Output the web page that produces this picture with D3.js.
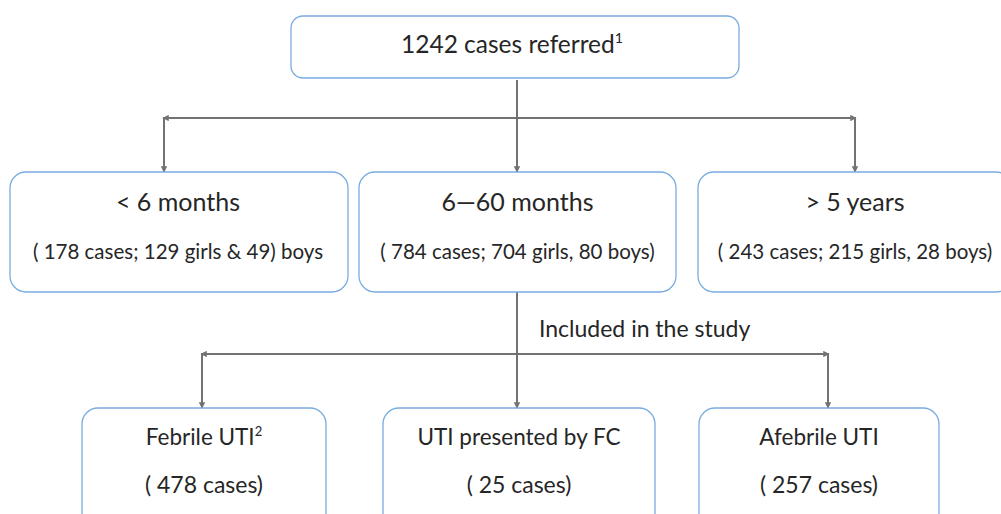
<!DOCTYPE html>
<html>
<head>
<meta charset="utf-8">
<script src="https://cdn.jsdelivr.net/npm/d3@7"></script>
<style>
  body { margin: 0; background: #fff; }
  svg text { font-family: "Lato", "Open Sans", sans-serif; fill: #262626; }
</style>
</head>
<body>
<div id="chart"></div>
<script>
// flowchart content
const topLabel = "1242 cases referred";
const topNote = "1";
const ageGroups = ["< 6 months", "6\u201460 months", "> 5 years"];
const ageCounts = ["( 178 cases; 129 girls & 49) boys", "( 784 cases; 704 girls, 80 boys)", "( 243 cases; 215 girls, 28 boys)"];
const branchLabel = "Included in the study";
const studyGroups = ["Febrile UTI", "UTI presented by FC", "Afebrile UTI"];
const studyNotes = ["2", "", ""];
const studyCounts = ["( 478 cases)", "( 25 cases)", "( 257 cases)"];

const w = 1001, h = 514;
const boxColor = "#79acdf";
const lineColor = "#727272";

// layout (pixels)
const topBox = {x0: 291, x1: 739, y0: 16, y1: 78};
const ageBoxes = [[10, 348], [359, 676], [698, 1012]];
const ageY = [172, 292];
const studyBoxes = [[82, 326], [383, 655], [699, 939]];
const studyY = [408, 540];
const splitY1 = 118, splitY2 = 354;
const arrowX1 = [164, 517, 855];
const arrowX2 = [202, 517, 828];

const svg = d3.select("#chart")
              .append("svg")
              .attr("width", w)
              .attr("height", h);

svg.append("defs").append("marker")
   .attr("id", "arrow")
   .attr("viewBox", "0 0 10 10")
   .attr("refX", 9).attr("refY", 5)
   .attr("markerWidth", 3.2).attr("markerHeight", 3.2)
   .attr("orient", "auto")
   .append("path")
   .attr("d", "M0,0 L10,5 L0,10 z")
   .attr("fill", lineColor);

const connector = (x1, y1, x2, y2, arrow) => {
  svg.append("line")
     .attr("x1", x1).attr("y1", y1)
     .attr("x2", x2).attr("y2", y2)
     .attr("stroke", lineColor)
     .attr("stroke-width", 2)
     .attr("marker-end", arrow ? "url(#arrow)" : null);
};

const box = (x0, x1, y0, y1, r) => {
  svg.append("rect")
     .attr("x", x0).attr("y", y0)
     .attr("width", x1 - x0).attr("height", y1 - y0)
     .attr("rx", r).attr("ry", r)
     .attr("fill", "#fff")
     .attr("stroke", boxColor)
     .attr("stroke-width", 1.3);
};

const label = (x, y, txt, size, note) => {
  const t = svg.append("text")
     .attr("x", x).attr("y", y)
     .attr("text-anchor", "middle")
     .style("font-size", size + "px");
  t.append("tspan").text(txt);
  if (note) {
    t.append("tspan")
     .attr("dy", -size * 0.42)
     .style("font-size", (size * 0.58) + "px")
     .text(note);
  }
};

// connectors, top split
connector(517, topBox.y1 + 2, 517, ageY[0], true);
connector(517, splitY1, arrowX1[0] - 1, splitY1, true);
connector(517, splitY1, arrowX1[2] + 1, splitY1, true);
[arrowX1[0], arrowX1[2]].forEach(x => connector(x, splitY1, x, ageY[0], true));

// connectors, lower split
connector(517, ageY[1], 517, studyY[0], true);
connector(517, splitY2, arrowX2[0] - 1, splitY2, true);
connector(517, splitY2, arrowX2[2] + 1, splitY2, true);
[arrowX2[0], arrowX2[2]].forEach(x => connector(x, splitY2, x, studyY[0], true));

// boxes
box(topBox.x0, topBox.x1, topBox.y0, topBox.y1, 12);
label((topBox.x0 + topBox.x1) / 2 - 3, 53, topLabel, 24.5, topNote);

ageBoxes.forEach((b, i) => {
  box(b[0], b[1], ageY[0], ageY[1], 16);
  const cx = i === 0 ? 178 : (i === 2 ? 855 : (b[0] + b[1]) / 2);
  label(cx, 211, ageGroups[i], 25);
  label(cx, 259, ageCounts[i], 20.5);
});

studyBoxes.forEach((b, i) => {
  box(b[0], b[1], studyY[0], studyY[1], 16);
  const cx = (b[0] + b[1]) / 2;
  label(cx, 445, studyGroups[i], 22.5, studyNotes[i]);
  label(cx, 493, studyCounts[i], 23);
});

svg.append("text")
   .attr("x", 539).attr("y", 337)
   .style("font-size", "23px")
   .text(branchLabel);
</script>
</body>
</html>
